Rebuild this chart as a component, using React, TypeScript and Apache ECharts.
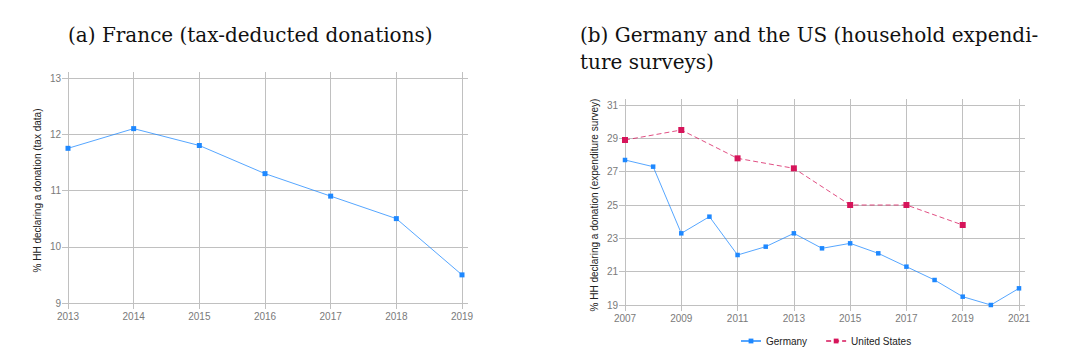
import React, { useEffect, useRef } from "react";
import * as echarts from "echarts";

const franceYears = ["2013", "2014", "2015", "2016", "2017", "2018", "2019"];
const franceValues = [11.75, 12.1, 11.8, 11.3, 10.9, 10.5, 9.5];

const deUsYears = ["2007", "2008", "2009", "2010", "2011", "2012", "2013", "2014", "2015", "2016", "2017", "2018", "2019", "2020", "2021"];
const germanyValues = [27.7, 27.3, 23.3, 24.3, 22.0, 22.5, 23.3, 22.4, 22.7, 22.1, 21.3, 20.5, 19.5, 19.0, 20.0];
const usValues = [28.9, null, 29.5, null, 27.8, null, 27.2, null, 25.0, null, 25.0, null, 23.8, null, null];

const franceAxis = { min: 9, max: 13, interval: 1 };
const deUsAxis = { min: 19, max: 31, interval: 2 };

const titleA = "(a) France (tax-deducted donations)";
const titleB = "(b) Germany and the US (household expendi-\nture surveys)";
const nameA = "% HH declaring a donation (tax data)";
const nameB = "% HH declaring a donation (expenditure survey)";

const GRID = "#c0c0c0";
const LABEL = "#7a7a7a";
const SANS = "Arial, 'Liberation Sans', sans-serif";
const SERIF = "'DejaVu Serif', serif";
const BLUE = "#1e88ff";
const RED = "#d6145a";

function mainX(gridIndex: number, data: string[], every: number) {
  return {
    type: "category",
    gridIndex,
    data,
    boundaryGap: false,
    axisLine: { show: true, lineStyle: { color: GRID, width: 1 } },
    axisTick: { show: true, length: 6, interval: every, lineStyle: { color: GRID } },
    axisLabel: { interval: every, color: LABEL, fontFamily: SANS, fontSize: 10, margin: 8 },
    splitLine: { show: true, interval: every, lineStyle: { color: GRID, width: 1 } },
  };
}
function topX(gridIndex: number, data: string[], every: number) {
  return {
    type: "category",
    gridIndex,
    data,
    position: "top",
    boundaryGap: false,
    axisLine: { show: false },
    axisTick: { show: true, length: 6, interval: every, lineStyle: { color: GRID } },
    axisLabel: { show: false },
    splitLine: { show: false },
  };
}
function mainY(gridIndex: number, ax: { min: number; max: number; interval: number }, name: string) {
  return {
    type: "value",
    gridIndex,
    ...ax,
    name,
    nameLocation: "middle",
    nameGap: 26,
    nameTextStyle: { color: "#222", fontFamily: SANS, fontSize: 10 },
    axisLine: { show: true, lineStyle: { color: GRID, width: 1 } },
    axisTick: { show: true, length: 6, lineStyle: { color: GRID } },
    axisLabel: { color: LABEL, fontFamily: SANS, fontSize: 10, margin: 7 },
    splitLine: { show: true, lineStyle: { color: GRID, width: 1 } },
  };
}
function rightY(gridIndex: number, ax: { min: number; max: number; interval: number }) {
  return {
    type: "value",
    gridIndex,
    ...ax,
    position: "right",
    axisLine: { show: false },
    axisTick: { show: true, length: 6, lineStyle: { color: GRID } },
    axisLabel: { show: false },
    splitLine: { show: false },
  };
}

const titleStyle = { fontFamily: SERIF, fontSize: 20, fontWeight: "normal", color: "#111", lineHeight: 27 };

export default function App() {
  const ref = useRef<HTMLDivElement>(null);
  useEffect(() => {
    if (!ref.current) return;
    const chart = echarts.init(ref.current, undefined, { renderer: "svg" });
    chart.setOption({
      animation: false,
      backgroundColor: "#ffffff",
      title: [
        { text: titleA, left: 68, top: 21, padding: 0, textStyle: titleStyle },
        { text: titleB, left: 580, top: 21, padding: 0, textStyle: titleStyle },
      ],
      grid: [
        { left: 68, top: 78, width: 394, height: 225 },
        { left: 625, top: 105, width: 394, height: 200 },
      ],
      xAxis: [
        mainX(0, franceYears, 0),
        topX(0, franceYears, 0),
        mainX(1, deUsYears, 1),
        topX(1, deUsYears, 1),
      ],
      yAxis: [
        mainY(0, franceAxis, nameA),
        rightY(0, franceAxis),
        mainY(1, deUsAxis, nameB),
        rightY(1, deUsAxis),
      ],
      legend: {
        left: 735,
        top: 331,
        itemWidth: 20,
        itemHeight: 6,
        itemGap: 18,
        textStyle: { color: "#222", fontFamily: SANS, fontSize: 10 },
        data: ["Germany", "United States"],
      },
      series: [
        {
          name: "France",
          type: "line",
          xAxisIndex: 0,
          yAxisIndex: 0,
          data: franceValues,
          symbol: "rect",
          symbolSize: 5,
          itemStyle: { color: BLUE },
          lineStyle: { color: BLUE, width: 1, opacity: 0.75 },
        },
        {
          name: "Germany",
          type: "line",
          xAxisIndex: 2,
          yAxisIndex: 2,
          data: germanyValues,
          symbol: "rect",
          symbolSize: 4.5,
          itemStyle: { color: BLUE },
          lineStyle: { color: BLUE, width: 1, opacity: 0.75 },
        },
        {
          name: "United States",
          type: "line",
          xAxisIndex: 2,
          yAxisIndex: 2,
          data: usValues,
          connectNulls: true,
          symbol: "rect",
          symbolSize: 6,
          itemStyle: { color: RED },
          lineStyle: { color: RED, width: 1, type: [5, 3], opacity: 0.75 },
        },
      ],
    });
    return () => chart.dispose();
  }, []);
  return (
    <div
      ref={ref}
      style={{ position: "fixed", left: 0, top: 0, width: 1083, height: 354, background: "#fff" }}
    />
  );
}
